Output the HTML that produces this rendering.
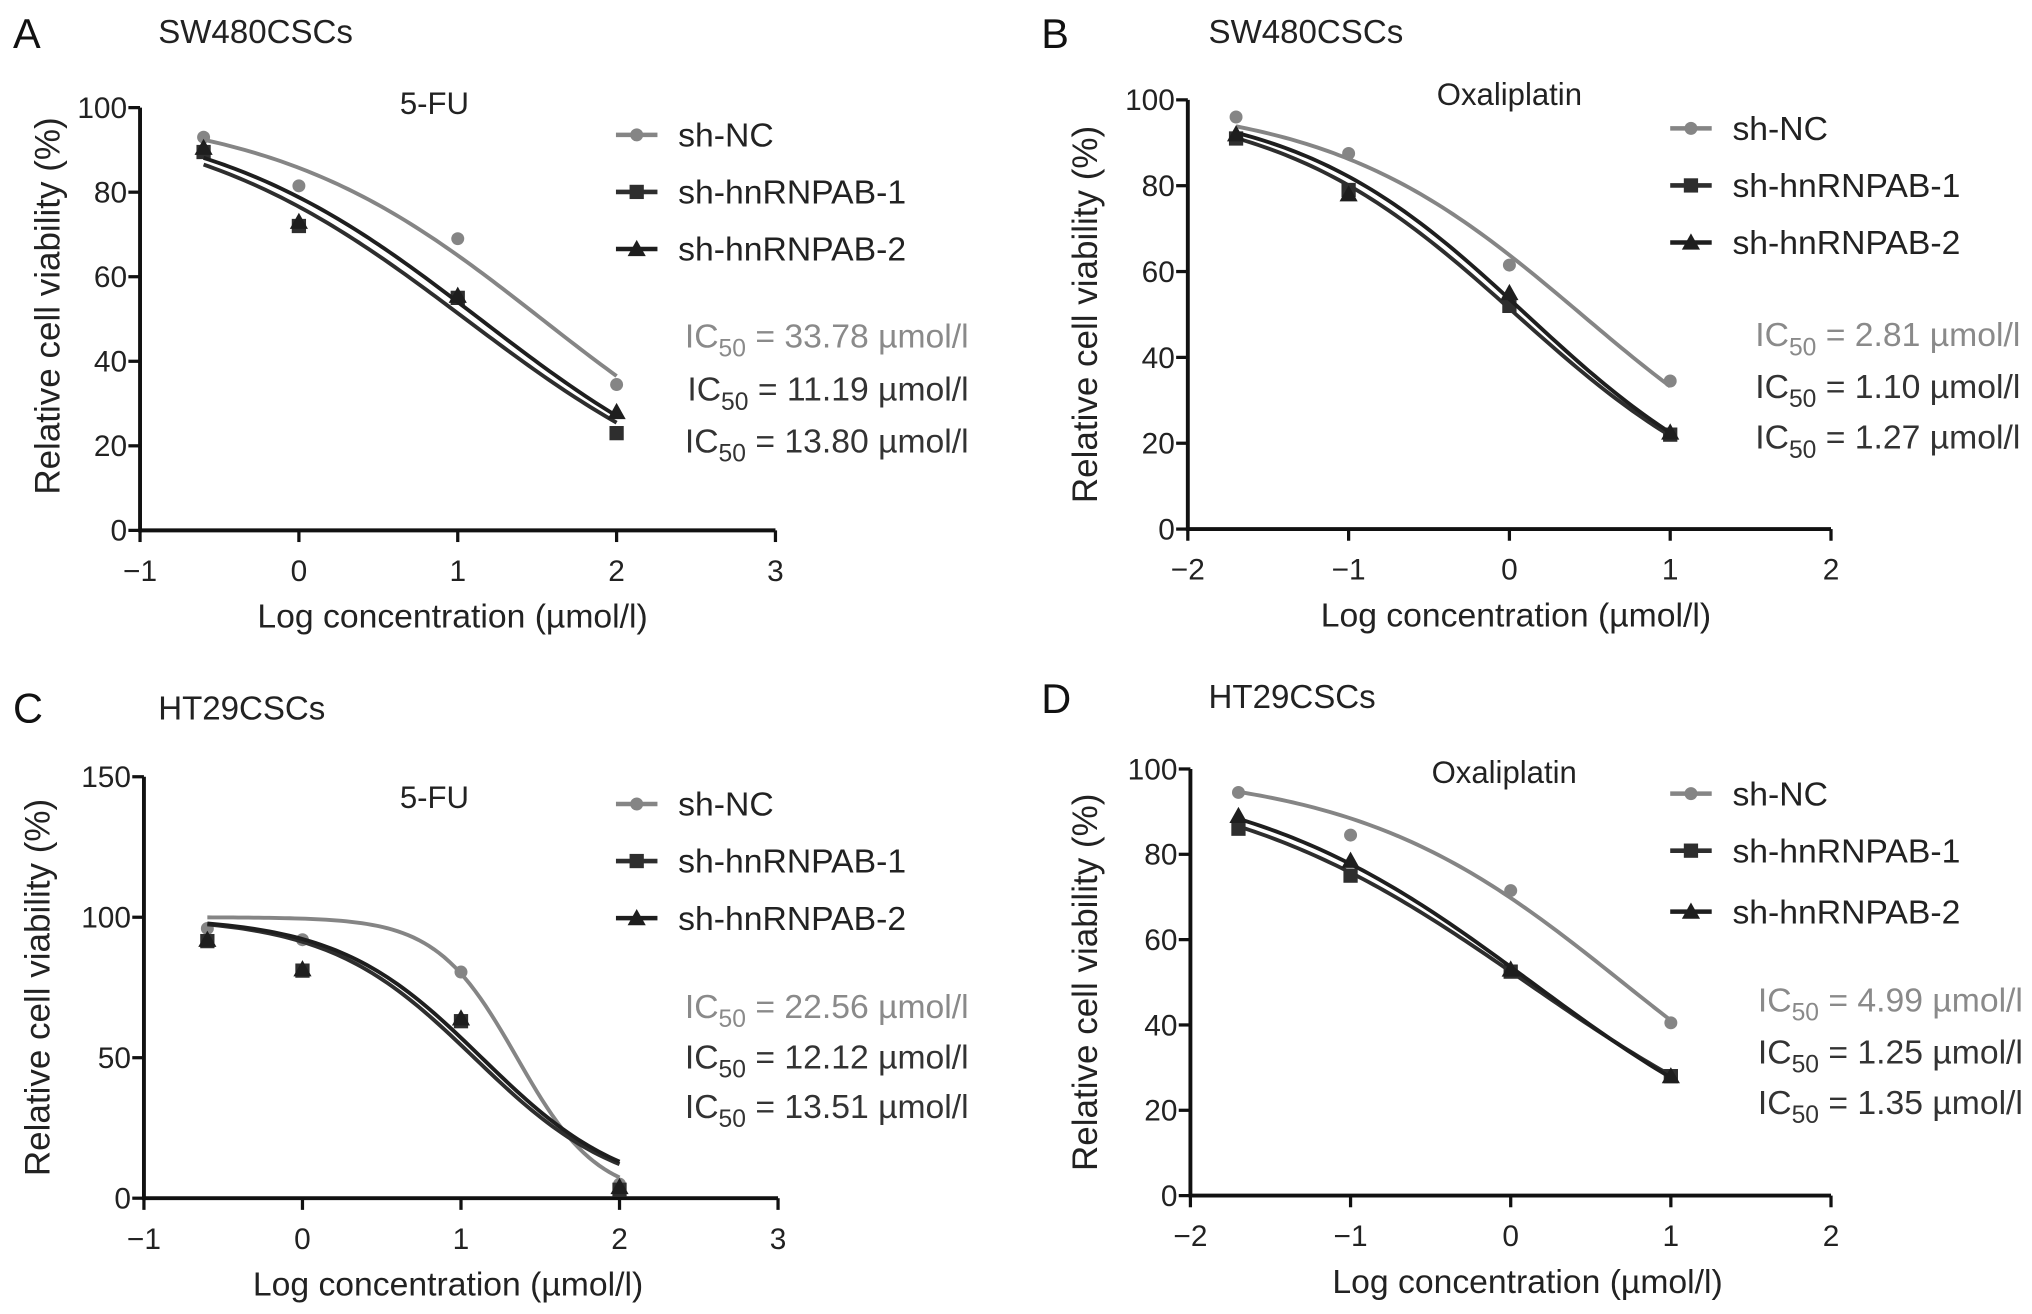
<!DOCTYPE html>
<html><head><meta charset="utf-8"><style>
html,body{margin:0;padding:0;background:#fff;}
svg{display:block;font-family:"Liberation Sans",Arial,sans-serif;}
</style></head><body>
<svg id="fig" width="2032" height="1314" viewBox="0 0 1567 1013.3" preserveAspectRatio="none" xmlns="http://www.w3.org/2000/svg"></svg>
<script>
// ---- data ----
const seriesNames = ["sh-NC","sh-hnRNPAB-1","sh-hnRNPAB-2"];
const seriesColors = ["#858585","#2e2e2e","#1e1e1e"];
const xA = [-0.6,0,1,2];
const ncA = [93,81.5,69,34.5];
const kd1A = [89.5,72,55,23];
const kd2A = [90.5,73,55.5,28];
const ic50A = [33.78,11.19,13.80];
const hillA = [0.51,0.49,0.50];
const xB = [-1.7,-1,0,1];
const ncB = [96,87.5,61.5,34.5];
const kd1B = [91,79,52,22];
const kd2B = [92,78,55,22.5];
const ic50B = [2.81,1.10,1.27];
const hillB = [0.55,0.58,0.60];
const xC = [-0.6,0,1,2];
const ncC = [96,92,80.5,5];
const kd1C = [91.5,81,63,3];
const kd2C = [92,81.5,64,4];
const ic50C = [22.56,12.12,13.51];
const hillC = [1.7,0.94,0.95];
const xD = [-1.7,-1,0,1];
const ncD = [94.5,84.5,71.5,40.5];
const kd1D = [86,75,52.5,28];
const kd2D = [89,78.5,53,28];
const ic50D = [4.99,1.25,1.35];
const hillD = [0.52,0.45,0.48];
const xTicksA = [-1,0,1,2,3], xTicksB = [-2,-1,0,1,2];
const yTicks100 = [0,20,40,60,80,100], yTicks150 = [0,50,100,150];

const NS="http://www.w3.org/2000/svg";
const svg=document.getElementById('fig');
function el(tag,attrs,parent,text){const e=document.createElementNS(NS,tag);for(const k in attrs)e.setAttribute(k,attrs[k]);if(text!==undefined)e.textContent=text;(parent||svg).appendChild(e);return e;}
function fmt(v){return v<0?'\u2212'+(-v):String(v);}

function marker(g,type,cx,cy,color){
  let m;
  if(type===0) m=el('circle',{cx:cx,cy:cy,r:5,fill:color},g);
  else if(type===1) m=el('rect',{x:cx-5.5,y:cy-5.5,width:11,height:11,fill:color},g);
  else m=el('polygon',{points:`${cx},${cy-7} ${cx+7},${cy+5.5} ${cx-7},${cy+5.5}`,fill:color},g);
  return m;
}

function panel(p){
  const g=el('g',{});
  
  
  const X=v=>p.x0+(v-p.xmin)/(p.xmax-p.xmin)*(p.x1-p.x0);
  const Y=v=>p.y0-(v-p.ymin)/(p.ymax-p.ymin)*(p.y0-p.y1);
  let t=el('text',{x:p.lx,y:p.ly,'font-size':32,fill:'#111'},g,p.id);
  
  t=el('text',{x:p.tx,y:p.ty,'font-size':25.5,fill:'#222'},g,p.title);
  
  t=el('text',{x:p.dx,y:p.dy,'font-size':24,fill:'#222','text-anchor':'middle'},g,p.drug);
  
  const ax=el('g',{},g);
  
  el('line',{x1:p.x0,y1:p.y0,x2:p.x1,y2:p.y0,stroke:'#111','stroke-width':3},ax);
  el('line',{x1:p.x0,y1:p.y0+1.5,x2:p.x0,y2:p.y1,stroke:'#111','stroke-width':3},ax);
  p.xticks.forEach(v=>{
    el('line',{x1:X(v),y1:p.y0,x2:X(v),y2:p.y0+9,stroke:'#111','stroke-width':2.5},ax);
    const tl=el('text',{x:X(v),y:p.y0+39,'font-size':23,'text-anchor':'middle',fill:'#222'},ax,fmt(v));
    
  });
  p.yticks.forEach(v=>{
    el('line',{x1:p.x0-9,y1:Y(v),x2:p.x0,y2:Y(v),stroke:'#111','stroke-width':2.5},ax);
    const tl=el('text',{x:p.x0-10,y:Y(v)+8,'font-size':23,'text-anchor':'end',fill:'#222'},ax,String(v));
    
  });
  t=el('text',{x:(p.x0+p.x1)/2+p.xtOff,y:p.y0+75,'font-size':26,'text-anchor':'middle',fill:'#222'},g,'Log concentration (\u00b5mol/l)');
  
  const yc=(p.y0+p.y1)/2+p.ytOff;
  t=el('text',{x:p.ytx,y:yc,'font-size':27,'text-anchor':'middle',fill:'#222',transform:`rotate(-90 ${p.ytx} ${yc})`},g,'Relative cell viability (%)');
  
  p.series.forEach((ys,i)=>{
    const sg=el('g',{},g);
    
    
    const lic=Math.log10(p.ic50[i]), h=p.hill[i];
    let d='';
    const xa=p.xs[0], xb=p.xs[p.xs.length-1];
    for(let k=0;k<=80;k++){const xv=xa+(xb-xa)*k/80;const yv=100/(1+Math.pow(10,h*(xv-lic)));d+=(k?'L':'M')+X(xv).toFixed(2)+','+Y(yv).toFixed(2);}
    const c=el('path',{d:d,fill:'none',stroke:seriesColors[i],'stroke-width':3},sg);
    
    ys.forEach((v,j)=>{
      const m=marker(sg,i,X(p.xs[j]),Y(v),seriesColors[i]);
      
    });
  });
  seriesNames.forEach((n,i)=>{
    const lg=el('g',{},g);
    
    const y=p.legY[i];
    el('line',{x1:p.legX,y1:y,x2:p.legX+32,y2:y,stroke:seriesColors[i],'stroke-width':3.5},lg);
    marker(lg,i,p.legX+16,y,seriesColors[i]);
    el('text',{x:p.legX+48,y:y+9,'font-size':26,fill:'#222'},lg,n);
  });
  p.ic50.forEach((v,i)=>{
    const tx=el('text',{x:p.icX,y:p.icY[i]+9,'font-size':26,'text-anchor':'end',fill:i===0?'#8a8a8a':'#333'},g);
    
    el('tspan',{},tx,'IC');
    el('tspan',{'font-size':19,dy:7},tx,'50');
    el('tspan',{dy:-7},tx,' = '+v.toFixed(2)+' \u00b5mol/l');
  });
}

panel({id:'A',title:'SW480CSCs',drug:'5-FU',lx:10,ly:37,tx:122,ty:33,dx:335,dy:88,
  x0:108,x1:598,xmin:-1,xmax:3,y0:409,y1:83,ymin:0,ymax:100,xticks:xTicksA,yticks:yTicks100,ytx:46,ytOff:-10,xtOff:-4,
  xs:xA,series:[ncA,kd1A,kd2A],ic50:ic50A,hill:hillA,legX:475,legY:[104,148,192],icX:747,icY:[259,300,340]});
panel({id:'B',title:'SW480CSCs',drug:'Oxaliplatin',lx:803,ly:37,tx:932,ty:33,dx:1164,dy:81,
  x0:916,x1:1412,xmin:-2,xmax:2,y0:408,y1:77,ymin:0,ymax:100,xticks:xTicksB,yticks:yTicks100,ytx:846,ytOff:0,xtOff:5,
  xs:xB,series:[ncB,kd1B,kd2B],ic50:ic50B,hill:hillB,legX:1288,legY:[99,143,187],icX:1558,icY:[258,298,337]});
panel({id:'C',title:'HT29CSCs',drug:'5-FU',lx:10,ly:557,tx:122,ty:555,dx:335,dy:623,
  x0:111,x1:600,xmin:-1,xmax:3,y0:924,y1:599,ymin:0,ymax:150,xticks:xTicksA,yticks:yTicks150,ytx:38,ytOff:0,xtOff:-10,
  xs:xC,series:[ncC,kd1C,kd2C],ic50:ic50C,hill:hillC,legX:475,legY:[620,664,708],icX:747,icY:[776,815,853]});
panel({id:'D',title:'HT29CSCs',drug:'Oxaliplatin',lx:803,ly:550,tx:932,ty:546,dx:1160,dy:604,
  x0:918,x1:1412,xmin:-2,xmax:2,y0:922,y1:593,ymin:0,ymax:100,xticks:xTicksB,yticks:yTicks100,ytx:846,ytOff:0,xtOff:13,
  xs:xD,series:[ncD,kd1D,kd2D],ic50:ic50D,hill:hillD,legX:1288,legY:[612,656,703],icX:1560,icY:[771,811,850]});
</script>
</body></html>
